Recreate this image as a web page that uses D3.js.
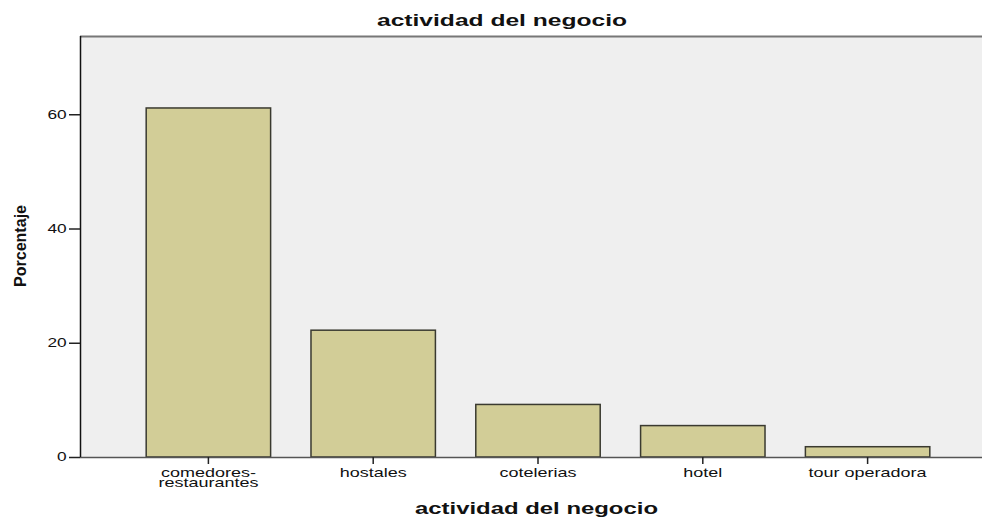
<!DOCTYPE html>
<html>
<head>
<meta charset="utf-8">
<script src="https://cdn.jsdelivr.net/npm/d3@7"></script>
<style>
  body { margin: 0; background: #fff; }
  svg { display: block; font-family: "Liberation Sans", Arial, sans-serif; }
</style>
</head>
<body>
<div class="chart-box"></div>
<script>
// categories and percentages
const categories = ['comedores-restaurantes', 'hostales', 'cotelerias', 'hotel', 'tour operadora'];
const categoryLines = [['comedores-', 'restaurantes'], ['hostales'], ['cotelerias'], ['hotel'], ['tour operadora']];
const percentages = [61.1, 22.2, 9.2, 5.5, 1.8];
const yTicks = [0, 20, 40, 60];

const WIDTH = 982, HEIGHT = 517;
const plot = { left: 80, top: 36, right: 990, bottom: 457 };
// the tick labels of the original are drawn horizontally stretched
const STRETCH = 1.44;

let svg = d3.select('.chart-box')
  .append('svg')
    .attr('width', WIDTH)
    .attr('height', HEIGHT);

let xscale = d3.scaleBand()
  .domain(categories)
  .range([126, 950])
  .paddingInner(0.245)
  .paddingOuter(0.1225);

let yscale = d3.scaleLinear()
  .domain([0, 73.7])
  .range([plot.bottom, plot.top]);

// plot background
svg.append('rect')
  .attr('x', plot.left)
  .attr('y', plot.top)
  .attr('width', plot.right - plot.left)
  .attr('height', plot.bottom - plot.top)
  .attr('fill', '#efefef');

// top frame line
svg.append('line')
  .attr('x1', plot.left).attr('x2', plot.right)
  .attr('y1', plot.top + 0.5).attr('y2', plot.top + 0.5)
  .attr('stroke', '#777').attr('stroke-width', 2);

// bars
let data = categories.map((c, i) => ({ cat: c, v: percentages[i] }));

svg.append('g')
  .selectAll('rect')
  .data(data)
  .enter().append('rect')
    .attr('x', d => xscale(d.cat))
    .attr('y', d => yscale(d.v))
    .attr('width', xscale.bandwidth())
    .attr('height', d => yscale(0) - yscale(d.v))
    .attr('fill', '#d2cd97')
    .attr('stroke', '#3a3a30')
    .attr('stroke-width', 1.5);

// x axis
let xAxis = svg.append('g')
  .attr('transform', 'translate(0,' + plot.bottom + ')')
  .call(d3.axisBottom(xscale).tickSize(7).tickSizeOuter(0).tickFormat(''));
xAxis.select('.domain').attr('d', 'M' + plot.left + ',0.5H' + plot.right).attr('stroke', '#555').attr('stroke-width', 1.5);
xAxis.selectAll('.tick line').attr('stroke', '#222').attr('stroke-width', 1.5);

xAxis.selectAll('.tick')
  .each(function(d, i) {
    let t = d3.select(this).append('text')
      .attr('fill', '#111')
      .attr('font-size', 12.5)
      .attr('text-anchor', 'middle')
      .attr('transform', 'scale(' + STRETCH + ',1)')
      .attr('y', 20);
    categoryLines[i].forEach((ln, j) => {
      t.append('tspan').attr('x', 0).attr('dy', j == 0 ? 0 : 10).text(ln);
    });
  });

// y axis
let yAxis = svg.append('g')
  .attr('transform', 'translate(' + plot.left + ',0)')
  .call(d3.axisLeft(yscale).tickValues(yTicks).tickSize(11).tickPadding(3).tickSizeOuter(0));
yAxis.select('.domain').attr('d', 'M0.5,' + plot.top + 'V' + plot.bottom).attr('stroke', '#111').attr('stroke-width', 1.5);
yAxis.selectAll('.tick line').attr('stroke', '#222').attr('stroke-width', 1.5);
yAxis.selectAll('.tick text')
  .attr('font-size', 12)
  .attr('fill', '#111')
  .attr('font-family', '"Liberation Sans", Arial, sans-serif')
  .attr('x', -13.3 / STRETCH)
  .attr('transform', 'scale(' + STRETCH + ',1)');

// titles
svg.append('text')
  .attr('x', 377).attr('y', 26)
  .attr('textLength', 250).attr('lengthAdjust', 'spacingAndGlyphs')
  .attr('font-size', 17).attr('font-weight', 'bold')
  .attr('fill', '#111')
  .text('actividad del negocio');

svg.append('text')
  .attr('x', 415).attr('y', 514)
  .attr('textLength', 243).attr('lengthAdjust', 'spacingAndGlyphs')
  .attr('font-size', 17).attr('font-weight', 'bold')
  .attr('fill', '#111')
  .text('actividad del negocio');

svg.append('text')
  .attr('transform', 'translate(26,287) rotate(-90)')
  .attr('textLength', 82).attr('lengthAdjust', 'spacingAndGlyphs')
  .attr('font-size', 16).attr('font-weight', 'bold')
  .attr('fill', '#111')
  .text('Porcentaje');
</script>
</body>
</html>
